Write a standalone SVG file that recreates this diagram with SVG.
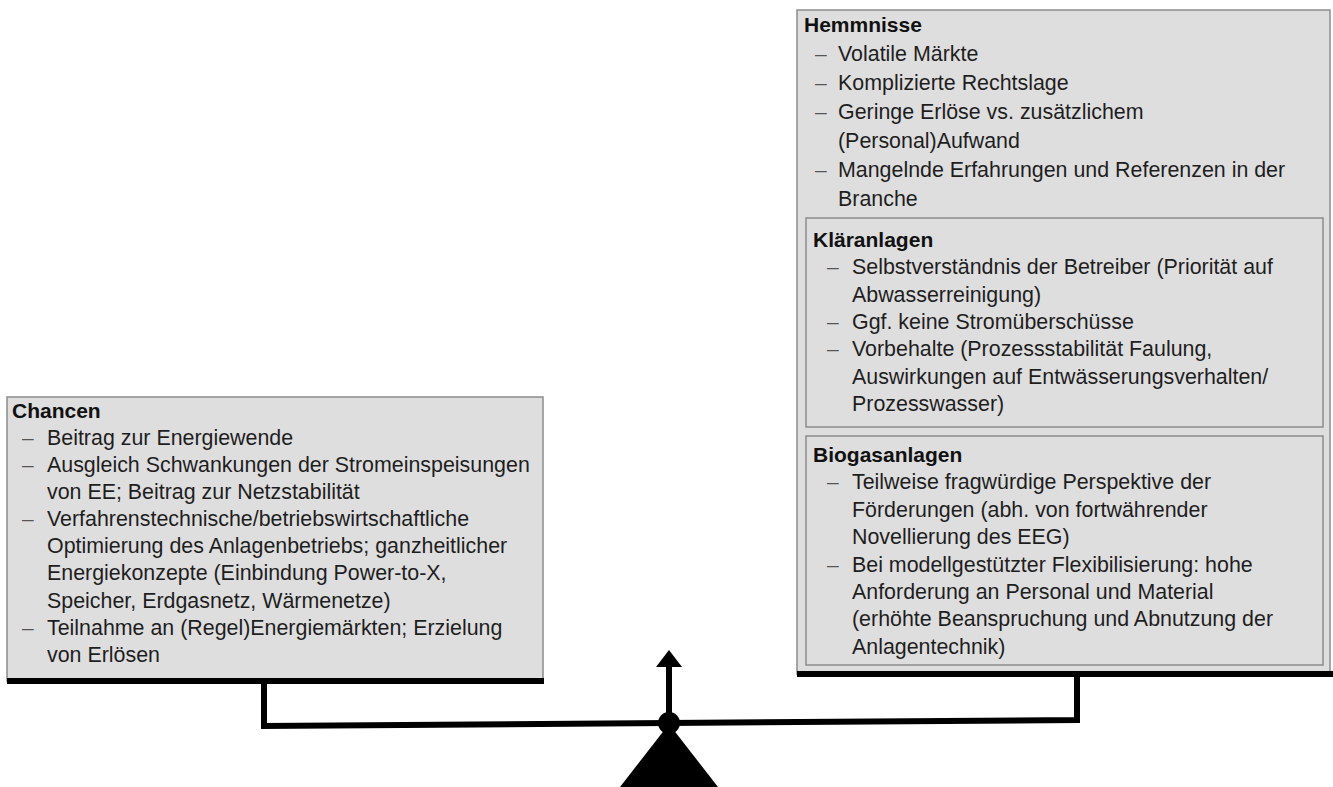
<svg xmlns="http://www.w3.org/2000/svg" width="1333" height="787" viewBox="0 0 1333 787">
<style>
.box{fill:#dedede;stroke:#8c8c8c;stroke-width:1.5}
.inner{fill:#dedede;stroke:#8c8c8c;stroke-width:1.5}
.bar{stroke:#000;stroke-width:6;fill:none}
.t{font-family:"Liberation Sans",Arial,sans-serif;font-size:21.4px;fill:#1e1e1e}
.h{font-family:"Liberation Sans",Arial,sans-serif;font-size:21px;font-weight:bold;fill:#111}
.d{font-family:"Liberation Sans",Arial,sans-serif;font-size:21px;fill:#555}
.line{stroke:#000;stroke-width:6;fill:none;stroke-linejoin:miter}
</style>
<rect width="1333" height="787" fill="#fff"/>
<g id="chancen">
<rect class="box" x="7" y="397" width="536" height="284"/>
<line class="bar" x1="7" y1="681" x2="544" y2="681"/>
<text class="h" x="12" y="418">Chancen</text>
<text class="d" x="22" y="445">–</text><text class="t" x="47" y="445">Beitrag zur Energiewende</text>
<text class="d" x="22" y="472">–</text><text class="t" x="47" y="472">Ausgleich Schwankungen der Stromeinspeisungen</text>
<text class="t" x="47" y="499">von EE; Beitrag zur Netzstabilität</text>
<text class="d" x="22" y="526">–</text><text class="t" x="47" y="526">Verfahrenstechnische/betriebswirtschaftliche</text>
<text class="t" x="47" y="553">Optimierung des Anlagenbetriebs; ganzheitlicher</text>
<text class="t" x="47" y="580">Energiekonzepte (Einbindung Power-to-X,</text>
<text class="t" x="47" y="608">Speicher, Erdgasnetz, Wärmenetze)</text>
<text class="d" x="22" y="635">–</text><text class="t" x="47" y="635">Teilnahme an (Regel)Energiemärkten; Erzielung</text>
<text class="t" x="47" y="662">von Erlösen</text>
</g>
<g id="hemmnisse">
<rect class="box" x="797" y="10" width="533" height="664"/>
<line class="bar" x1="797" y1="674" x2="1333" y2="674"/>
<text class="h" x="804" y="32">Hemmnisse</text>
<text class="d" x="815" y="61">–</text><text class="t" x="838" y="61">Volatile Märkte</text>
<text class="d" x="815" y="90">–</text><text class="t" x="838" y="90">Komplizierte Rechtslage</text>
<text class="d" x="815" y="119">–</text><text class="t" x="838" y="119">Geringe Erlöse vs. zusätzlichem</text>
<text class="t" x="838" y="148">(Personal)Aufwand</text>
<text class="d" x="815" y="177">–</text><text class="t" x="838" y="177">Mangelnde Erfahrungen und Referenzen in der</text>
<text class="t" x="838" y="206">Branche</text>
<g id="klaeranlagen">
<rect class="inner" x="806" y="218" width="517" height="209"/>
<text class="h" x="813" y="247">Kläranlagen</text>
<text class="d" x="827" y="274">–</text><text class="t" x="852" y="274">Selbstverständnis der Betreiber (Priorität auf</text>
<text class="t" x="852" y="302">Abwasserreinigung)</text>
<text class="d" x="827" y="329">–</text><text class="t" x="852" y="329">Ggf. keine Stromüberschüsse</text>
<text class="d" x="827" y="356">–</text><text class="t" x="852" y="356">Vorbehalte (Prozessstabilität Faulung,</text>
<text class="t" x="852" y="384">Auswirkungen auf Entwässerungsverhalten/</text>
<text class="t" x="852" y="411">Prozesswasser)</text>
</g>
<g id="biogasanlagen">
<rect class="inner" x="806" y="436" width="517" height="229"/>
<text class="h" x="813" y="462">Biogasanlagen</text>
<text class="d" x="827" y="489">–</text><text class="t" x="852" y="489">Teilweise fragwürdige Perspektive der</text>
<text class="t" x="852" y="517">Förderungen (abh. von fortwährender</text>
<text class="t" x="852" y="544">Novellierung des EEG)</text>
<text class="d" x="827" y="572">–</text><text class="t" x="852" y="572">Bei modellgestützter Flexibilisierung: hohe</text>
<text class="t" x="852" y="599">Anforderung an Personal und Material</text>
<text class="t" x="852" y="626">(erhöhte Beanspruchung und Abnutzung der</text>
<text class="t" x="852" y="654">Anlagentechnik)</text>
</g>
</g>
<g id="connectors">
<polyline class="line" points="264,684 264,726 1077,720 1077,677"/>
<line class="line" x1="669" y1="723" x2="669" y2="662"/>
<polygon points="669,650 682,667 656,667" fill="#000"/>
<circle cx="669" cy="723" r="11" fill="#000"/>
<polygon points="669,724 620,787 718,787" fill="#000"/>
</g>
</svg>
